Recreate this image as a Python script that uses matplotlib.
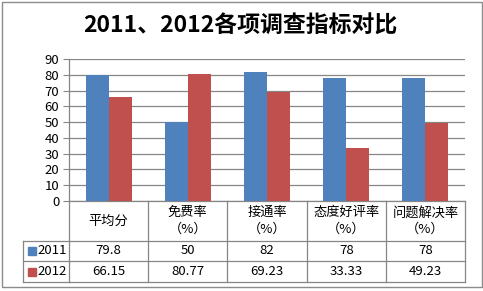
import matplotlib
matplotlib.use("Agg")
import matplotlib.pyplot as plt
from matplotlib.patches import Rectangle

plt.rcParams["font.family"] = ["Noto Sans CJK SC", "DejaVu Sans"]

# data
categories = ["平均分", "免费率\n（%）", "接通率\n（%）", "态度好评率\n（%）", "问题解决率\n（%）"]
series_names = ["2011", "2012"]
values_2011 = [79.8, 50, 82, 78, 78]
values_2012 = [66.15, 80.77, 69.23, 33.33, 49.23]
labels_2011 = ["79.8", "50", "82", "78", "78"]
labels_2012 = ["66.15", "80.77", "69.23", "33.33", "49.23"]
yticks = list(range(0, 91, 10))

BLUE = "#4F81BD"
RED = "#C0504D"
GRID = "#868686"

W, H = 483, 291
fig = plt.figure(figsize=(W / 100, H / 100), dpi=100)
fig.patch.set_facecolor("white")

# outer frame of the chart object
fig.add_artist(Rectangle((2 / W, 1 - 287 / H), 480 / W, 285 / H,
                         transform=fig.transFigure, fill=False,
                         edgecolor="#8c8c8c", linewidth=1))

fig.text(240 / W, 1 - 26 / H, "2011、2012各项调查指标对比",
         ha="center", va="center", fontsize=16.5, fontweight="bold")

# plot area in pixels: x 69..465, y 59..201
ax = fig.add_axes([69 / W, 1 - 201 / H, 396 / W, 142 / H])
n = len(categories)
xs = list(range(n))
width = 0.29
ax.bar([x - width / 2 for x in xs], values_2011, width, color=BLUE, zorder=3)
ax.bar([x + width / 2 for x in xs], values_2012, width, color=RED, zorder=3)

ax.set_xlim(-0.5, n - 0.5)
ax.set_ylim(0, 90)
ax.set_yticks(yticks)
ax.set_yticklabels([str(t) for t in yticks], fontsize=9.5)
ax.yaxis.grid(True, color=GRID, linewidth=0.9, zorder=0)
ax.set_xticks([])
ax.tick_params(axis="y", length=4, color=GRID, pad=3)
for side in ["top", "right", "bottom"]:
    ax.spines[side].set_visible(False)
ax.spines["left"].set_color(GRID)
ax.spines["left"].set_linewidth(0.9)

# data table below the axis, columns follow the category scale
trans = ax.get_xaxis_transform()
px = 1 / 142.0  # one pixel in axes height


def ay(ypix):
    return (201 - ypix) * px


line_kw = dict(color=GRID, linewidth=0.9, clip_on=False)
row_top, row_mid, row_bot = 241, 261, 282
# horizontal table lines
for yp in [201, row_top, row_mid, row_bot]:
    ax.plot([-0.5, n - 0.5], [ay(yp), ay(yp)], transform=trans, **line_kw)
# vertical lines between categories
for k in range(n + 1):
    ax.plot([k - 0.5, k - 0.5], [ay(201), ay(row_bot)], transform=trans, **line_kw)

# left legend column, in figure pixels
fx = lambda xp: xp / W
fy = lambda yp: 1 - yp / H
for yp in [row_top, row_mid, row_bot]:
    fig.add_artist(plt.Line2D([fx(23), fx(69)], [fy(yp), fy(yp)], color=GRID, linewidth=0.9))
fig.add_artist(plt.Line2D([fx(23), fx(23)], [fy(row_top), fy(row_bot)], color=GRID, linewidth=0.9))

for i, (name, col) in enumerate(zip(series_names, [BLUE, RED])):
    yc = (row_top + 10 + 20.5 * i)
    fig.add_artist(Rectangle((fx(28), fy(yc + 4)), 8 / W, 8 / H,
                             transform=fig.transFigure, color=col))
    fig.text(fx(37), fy(yc), name, ha="left", va="center", fontsize=9.5)

for x, cat in zip(xs, categories):
    ax.text(x, ay(221), cat, transform=trans, ha="center", va="center",
            fontsize=9.5, linespacing=1.35)
for x, lab in zip(xs, labels_2011):
    ax.text(x, ay(251), lab, transform=trans, ha="center", va="center", fontsize=9.5)
for x, lab in zip(xs, labels_2012):
    ax.text(x, ay(271.5), lab, transform=trans, ha="center", va="center", fontsize=9.5)

fig.savefig("out.png", dpi=100)
